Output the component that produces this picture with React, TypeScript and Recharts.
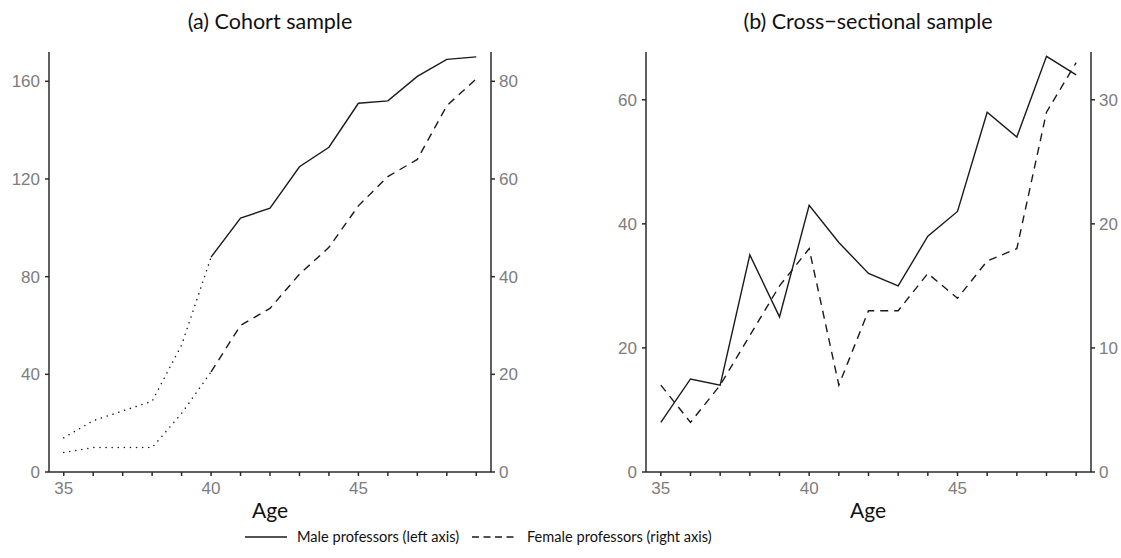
import React from 'react';
import { LineChart, Line, XAxis, YAxis } from 'recharts';

const ages = [35, 36, 37, 38, 39, 40, 41, 42, 43, 44, 45, 46, 47, 48, 49];
const xTicks = [35, 36, 37, 38, 39, 40, 41, 42, 43, 44, 45, 46, 47, 48, 49];
const xLabelled = [35, 40, 45];

// (a) Cohort sample
const maleCohortSolid = [null, null, null, null, null, 88, 104, 108, 125, 133, 151, 152, 162, 169, 170];
const maleCohortDotted = [14, 21, 25, 29, 52, 88, null, null, null, null, null, null, null, null, null];
const femaleCohortDashed = [null, null, null, null, null, 20.5, 30, 33.5, 40.5, 46, 54.5, 60.5, 64, 75, 80.5];
const femaleCohortDotted = [4, 5, 5, 5, 12, 20.5, null, null, null, null, null, null, null, null, null];
const cohortLeftTicks = [0, 40, 80, 120, 160];
const cohortRightTicks = [0, 20, 40, 60, 80];

// (b) Cross-sectional sample
const maleCross = [8, 15, 14, 35, 25, 43, 37, 32, 30, 38, 42, 58, 54, 67, 64];
const femaleCross = [7, 4, 7, 11, 15, 18, 7, 13, 13, 16, 14, 17, 18, 29, 33];
const crossLeftTicks = [0, 20, 40, 60];
const crossRightTicks = [0, 10, 20, 30];

const cohortData = ages.map((a, i) => ({
  age: a,
  maleSolid: maleCohortSolid[i],
  maleDotted: maleCohortDotted[i],
  femaleDashed: femaleCohortDashed[i],
  femaleDotted: femaleCohortDotted[i],
}));

const crossData = ages.map((a, i) => ({
  age: a,
  male: maleCross[i],
  female: femaleCross[i],
}));

const AXIS = '#2b2b2b';
const TICKTEXT = { fill: '#7d7d7d', fontSize: 17, fontFamily: '"Liberation Sans", Arial, sans-serif' };
const LINE = '#1a1a1a';
const LABEL_FONT = 'Lato, "Open Sans", sans-serif';

const xFmt = (v: number) => (xLabelled.includes(v) ? String(v) : '');

function CohortChart() {
  return (
    <LineChart
      width={560}
      height={558}
      data={cohortData}
      margin={{ top: 52, right: 29, bottom: 56, left: 9 }}
    >
      <XAxis
        dataKey="age"
        type="number"
        domain={[34.5, 49.5]}
        ticks={xTicks}
        interval={0}
        tickFormatter={xFmt}
        height={30}
        tickSize={4}
        tickMargin={6}
        stroke={AXIS}
        strokeWidth={1.5}
        tick={TICKTEXT}
      />
      <YAxis
        yAxisId="left"
        orientation="left"
        domain={[0, 172]}
        ticks={cohortLeftTicks}
        interval={0}
        width={40}
        tickSize={4}
        tickMargin={5}
        stroke={AXIS}
        strokeWidth={1.5}
        tick={TICKTEXT}
        allowDataOverflow
      />
      <YAxis
        yAxisId="right"
        orientation="right"
        domain={[0, 86]}
        ticks={cohortRightTicks}
        interval={0}
        width={40}
        tickSize={4}
        tickMargin={4}
        stroke={AXIS}
        strokeWidth={1.5}
        tick={TICKTEXT}
        allowDataOverflow
      />
      <Line yAxisId="left" dataKey="maleDotted" stroke={LINE} strokeWidth={1.5} strokeDasharray="0.1 6" strokeLinecap="round" dot={false} isAnimationActive={false} />
      <Line yAxisId="right" dataKey="femaleDotted" stroke={LINE} strokeWidth={1.5} strokeDasharray="0.1 6" strokeLinecap="round" dot={false} isAnimationActive={false} />
      <Line yAxisId="left" dataKey="maleSolid" stroke={LINE} strokeWidth={1.4} dot={false} isAnimationActive={false} />
      <Line yAxisId="right" dataKey="femaleDashed" stroke={LINE} strokeWidth={1.4} strokeDasharray="8 6" dot={false} isAnimationActive={false} />
    </LineChart>
  );
}

function CrossChart() {
  return (
    <LineChart
      width={561}
      height={558}
      data={crossData}
      margin={{ top: 52, right: 0, bottom: 56, left: 46 }}
    >
      <XAxis
        dataKey="age"
        type="number"
        domain={[34.5, 49.5]}
        ticks={xTicks}
        interval={0}
        tickFormatter={xFmt}
        height={30}
        tickSize={4}
        tickMargin={6}
        stroke={AXIS}
        strokeWidth={1.5}
        tick={TICKTEXT}
      />
      <YAxis
        yAxisId="left"
        orientation="left"
        domain={[0, 67.7]}
        ticks={crossLeftTicks}
        interval={0}
        width={40}
        tickSize={4}
        tickMargin={5}
        stroke={AXIS}
        strokeWidth={1.5}
        tick={TICKTEXT}
        allowDataOverflow
      />
      <YAxis
        yAxisId="right"
        orientation="right"
        domain={[0, 33.85]}
        ticks={crossRightTicks}
        interval={0}
        width={30}
        tickSize={4}
        tickMargin={4}
        stroke={AXIS}
        strokeWidth={1.5}
        tick={TICKTEXT}
        allowDataOverflow
      />
      <Line yAxisId="left" dataKey="male" stroke={LINE} strokeWidth={1.4} dot={false} isAnimationActive={false} />
      <Line yAxisId="right" dataKey="female" stroke={LINE} strokeWidth={1.4} strokeDasharray="8 6" dot={false} isAnimationActive={false} />
    </LineChart>
  );
}

export default function App() {
  return (
    <div style={{ position: 'absolute', left: 0, top: 0, width: 1121, height: 558, background: '#fff', overflow: 'hidden' }}>
      <div style={{ position: 'absolute', left: 0, top: 0 }}>
        <CohortChart />
      </div>
      <div style={{ position: 'absolute', left: 560, top: 0 }}>
        <CrossChart />
      </div>
      <svg width={1121} height={558} style={{ position: 'absolute', left: 0, top: 0, pointerEvents: 'none' }}>
        <g fontFamily={LABEL_FONT} fill="#111">
          <text x={270} y={29} textAnchor="middle" fontSize={21.5}>(a) Cohort sample</text>
          <text x={868} y={29} textAnchor="middle" fontSize={21.5}>(b) Cross−sectional sample</text>
          <text x={270} y={518} textAnchor="middle" fontSize={21}>Age</text>
          <text x={868} y={518} textAnchor="middle" fontSize={21}>Age</text>
          <line x1={245} x2={287} y1={537} y2={537} stroke={LINE} strokeWidth={1.4} />
          <text x={297} y={542} fontSize={14.6}>Male professors (left axis)</text>
          <line x1={472} x2={514} y1={537} y2={537} stroke={LINE} strokeWidth={1.4} strokeDasharray="7 4.5" />
          <text x={527} y={542} fontSize={14.6}>Female professors (right axis)</text>
        </g>
      </svg>
    </div>
  );
}
